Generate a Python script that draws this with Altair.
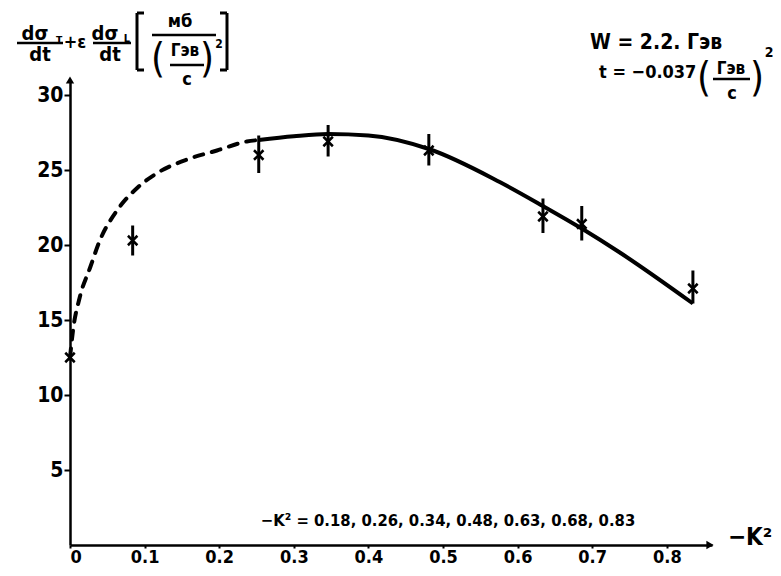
import altair as alt
import pandas as pd

FONT = "DejaVu Sans Condensed, DejaVu Sans"

# measured points (x = -K^2)
kx = [0.0, 0.084, 0.253, 0.346, 0.481, 0.634, 0.686, 0.835]
val = [12.5, 20.3, 26.0, 26.9, 26.3, 21.9, 21.4, 17.1]
err_lo = [12.3, 19.3, 24.8, 25.9, 25.3, 20.8, 20.3, 16.1]
err_hi = [12.7, 21.3, 27.3, 28.0, 27.4, 23.1, 22.6, 18.3]

# fitted curve: dashed part then solid part
dash_x = [0.0, 0.004, 0.013, 0.027, 0.040, 0.063, 0.090, 0.117, 0.157, 0.197, 0.237, 0.253]
dash_y = [12.5, 14.3, 16.5, 18.5, 20.3, 22.3, 23.8, 24.8, 25.7, 26.3, 26.9, 27.0]
solid_x = [0.253, 0.30, 0.346, 0.40, 0.481, 0.576, 0.634, 0.686, 0.737, 0.835]
solid_y = [27.0, 27.25, 27.4, 27.3, 26.4, 24.2, 22.6, 21.1, 19.5, 16.1]

x_ticks = [0, 0.1, 0.2, 0.3, 0.4, 0.5, 0.6, 0.7, 0.8]
y_ticks = [5, 10, 15, 20, 25, 30]

W, H = 642, 465
xs = alt.Scale(domain=[0, W / 746], nice=False)
ys = alt.Scale(domain=[0, 31], nice=False)

pts = pd.DataFrame({"x": kx, "y": val, "lo": err_lo, "hi": err_hi})
dash_df = pd.DataFrame({"x": dash_x, "y": dash_y})
solid_df = pd.DataFrame({"x": solid_x, "y": solid_y})

xax = alt.Axis(values=x_ticks, labelExpr="datum.value == 0 ? '0' : format(datum.value, '.1f')",
               title=None, grid=False, tickSize=3, labelPadding=0, labelFontSize=18)
yax = alt.Axis(values=y_ticks, title=None, grid=False, tickSize=6, labelPadding=1, labelFontSize=21)

solid = alt.Chart(solid_df).mark_line(color="black", strokeWidth=4, interpolate="monotone").encode(
    x=alt.X("x:Q", scale=xs, axis=xax), y=alt.Y("y:Q", scale=ys, axis=yax))
dashed = alt.Chart(dash_df).mark_line(color="black", strokeWidth=4, interpolate="monotone",
                                      strokeDash=[9, 9], strokeCap="round").encode(
    x=alt.X("x:Q", scale=xs), y=alt.Y("y:Q", scale=ys))
errs = alt.Chart(pts).mark_rule(color="black", strokeWidth=3).encode(
    x=alt.X("x:Q", scale=xs), y=alt.Y("lo:Q", scale=ys), y2="hi:Q")
marks = alt.Chart(pts).mark_point(shape="M-1,-1L1,1M1,-1L-1,1", size=90, filled=False,
                                  strokeWidth=2.5, color="black", opacity=1).encode(
    x=alt.X("x:Q", scale=xs), y=alt.Y("y:Q", scale=ys))


def txt(s, x, y, size, align="center", baseline="middle", weight="bold"):
    return alt.Chart(pd.DataFrame({"t": [s]})).mark_text(
        align=align, baseline=baseline, fontSize=size, font=FONT, fontWeight=weight, color="black"
    ).encode(x=alt.value(x), y=alt.value(y), text="t:N")


def rule(x1, x2, y1, y2, w=2.5):
    return alt.Chart(pd.DataFrame({"a": [0]})).mark_rule(color="black", strokeWidth=w).encode(
        x=alt.value(x1), x2=alt.value(x2), y=alt.value(y1), y2=alt.value(y2))


arrow_y = alt.Chart(pd.DataFrame({"a": [0]})).mark_point(shape="triangle-up", size=70, filled=True,
                                                         color="black", opacity=1).encode(
    x=alt.value(0), y=alt.value(0))
arrow_x = alt.Chart(pd.DataFrame({"a": [0]})).mark_point(shape="triangle-right", size=70, filled=True,
                                                         color="black", opacity=1).encode(
    x=alt.value(W - 2), y=alt.value(H))

deco = [
    # left title: dσT/dt + ε dσL/dt [ мб / (Гэв/c)^2 ]
    txt("dσ", -35, -46, 20), txt("т", -11, -41, 12),
    rule(-53, -7, -37, -37),
    txt("dt", -30, -25, 20),
    txt("+ε", 5, -37, 18),
    txt("dσ", 35, -46, 20), txt("L", 57, -41, 11),
    rule(23, 61, -37, -37),
    txt("dt", 40, -25, 20),
    rule(67, 67, -67, -10, 3), rule(67, 74, -67, -67, 3), rule(67, 74, -10, -10, 3),
    txt("мб", 110, -58, 18),
    rule(82, 146, -45, -45),
    txt("(", 88, -20, 40, weight="normal"),
    txt("Гэв", 115, -29, 17),
    rule(100, 134, -15, -15),
    txt("c", 117, 0, 18),
    txt(")", 137, -20, 40, weight="normal"),
    txt("2", 149, -36, 12),
    rule(157, 157, -67, -10, 3), rule(150, 157, -67, -67, 3), rule(150, 157, -10, -10, 3),
    # top right annotation
    txt("W = 2.2. Гэв", 520, -37, 21, align="left"),
    txt("t = −0.037", 529, -7, 18, align="left"),
    txt("(", 634, -1, 40, weight="normal"),
    txt("Гэв", 661, -11, 17),
    rule(643, 680, -1, -1),
    txt("c", 662, 14, 18),
    txt(")", 687, -1, 40, weight="normal"),
    txt("2", 699, -27, 14),
    # list of -K^2 values and axis title
    txt("−K² = 0.18, 0.26, 0.34, 0.48, 0.63, 0.68, 0.83", 378, 441, 16.5),
    txt("−K²", 658, 458, 24, align="left"),
]

chart = alt.layer(solid, dashed, errs, marks, arrow_y, arrow_x, *deco).properties(
    width=W, height=H,
    autosize=alt.AutoSizeParams(type="none"),
    padding={"left": 62, "top": 72, "right": 61, "bottom": 23},
    background="white",
).configure_view(stroke=None).configure_axis(
    domainColor="black", domainWidth=2.5, tickColor="black", tickWidth=2,
    labelFont=FONT, labelFontWeight="bold", labelColor="black",
)

chart.save("out.html", embed_options={"renderer": "svg", "actions": False})
